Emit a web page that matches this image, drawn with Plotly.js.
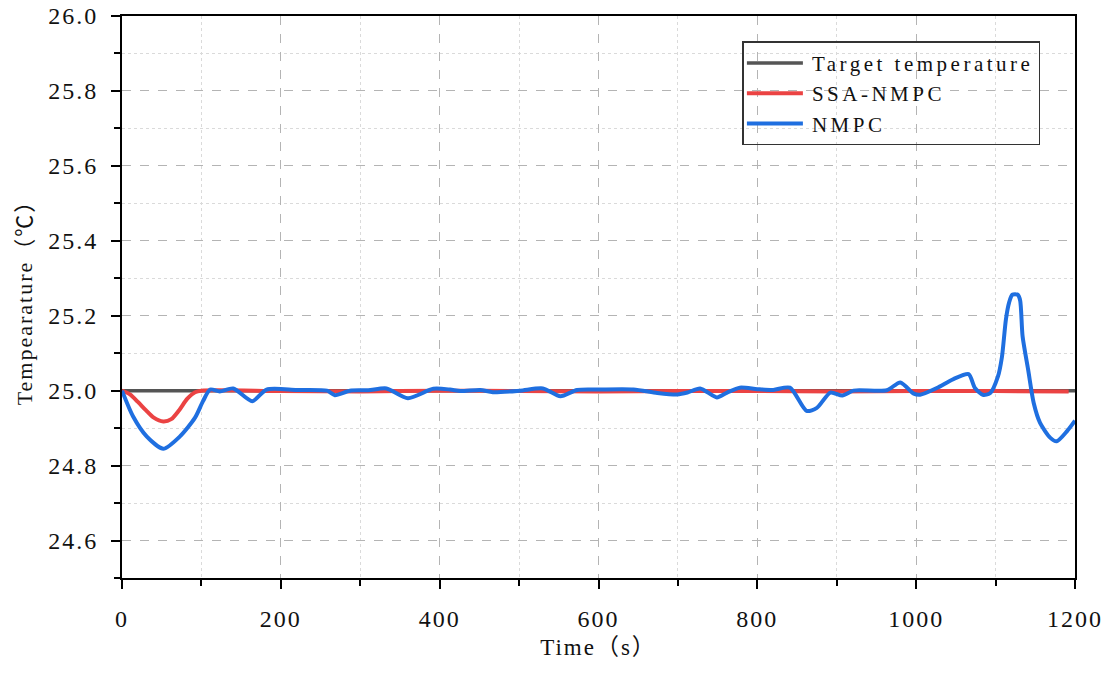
<!DOCTYPE html>
<html>
<head>
<meta charset="utf-8">
<script src="https://cdn.plot.ly/plotly-3.0.1.min.js"></script>
<style>
  body { margin: 0; background: #fff; }
  #chart { width: 1110px; height: 675px; }
  text { letter-spacing: 2px; }
  .legendtext { letter-spacing: 3.5px; }
</style>
</head>
<body>
<div id="chart"></div>
<script>
// values
var targetTime = [0, 1200];
var targetTemp = [25.0, 25.0];

var ssaTime = [0, 10, 20, 30, 40, 52, 62, 72, 82, 92, 100, 200, 300, 400, 500, 600, 700, 800, 900, 1000, 1100, 1192];
var ssaTemp = [25.0, 24.99, 24.97, 24.948, 24.928, 24.918, 24.924, 24.948, 24.978, 24.996, 25.0, 24.999, 24.998, 25.0, 24.999, 24.998, 24.999, 24.999, 24.998, 24.999, 24.999, 24.998];

var nmpcTime = [0, 14, 31, 52, 73, 92, 102, 111, 123, 140, 164, 182, 220, 258, 268, 287, 310, 333, 360, 392, 413,
  426, 451, 467, 501, 530, 552, 573, 602, 644, 674, 699, 712, 728, 749, 762, 778, 800, 820, 841, 862,
  875, 892, 907, 921, 963, 980, 997, 1005, 1026, 1047, 1066, 1074, 1084, 1093, 1103, 1108, 1113, 1117, 1121, 1128, 1131,
  1134, 1141, 1148, 1156, 1169, 1177, 1190, 1200];
var nmpcTemp = [25.0, 24.931, 24.878, 24.845, 24.878, 24.928, 24.972, 25.003, 24.998, 25.006, 24.972, 25.003, 25.002, 25.0, 24.988, 25.0, 25.001, 25.006, 24.98, 25.005, 25.003,
  24.999, 25.002, 24.996, 25.0, 25.006, 24.985, 25.002, 25.003, 25.003, 24.994, 24.99, 24.995, 25.006, 24.982, 24.995, 25.008, 25.004, 25.002, 25.008, 24.946,
  24.954, 24.995, 24.987, 25.0, 25.001, 25.022, 24.992, 24.989, 25.007, 25.031, 25.044, 25.007, 24.989, 24.993, 25.038, 25.09, 25.19, 25.235, 25.256, 25.256, 25.24,
  25.145, 25.056, 24.967, 24.914, 24.874, 24.865, 24.892, 24.92];

var seriesNames = ['Target temperature', 'SSA-NMPC', 'NMPC'];

var fontFam = '"Liberation Serif", "Noto Sans CJK SC", serif';
var tickFont = { family: fontFam, size: 24, color: '#111' };

var layout = {
  width: 1110,
  height: 675,
  paper_bgcolor: '#ffffff',
  plot_bgcolor: '#ffffff',
  showlegend: true,
  margin: { l: 122, r: 35, t: 16, b: 97 },
  font: { family: fontFam, size: 22, color: '#111' },
  xaxis: {
    range: [0, 1200],
    dtick: 200,
    tick0: 0,
    tickfont: tickFont,
    ticks: 'outside',
    ticklen: 9,
    tickwidth: 2,
    tickcolor: '#000',
    ticklabelstandoff: 9,
    showline: true,
    linecolor: '#000',
    linewidth: 2,
    mirror: true,
    showgrid: true,
    gridcolor: '#b4b4b4',
    griddash: 'dash',
    gridwidth: 1,
    zeroline: false,
    minor: { dtick: 100, ticks: 'outside', ticklen: 6, tickwidth: 2, tickcolor: '#000',
             showgrid: true, gridcolor: '#dadada', griddash: 'dot', gridwidth: 1 },
    title: { text: 'Time（s）', font: { family: fontFam, size: 23 }, standoff: 8 }
  },
  yaxis: {
    range: [24.5, 26.0],
    dtick: 0.2,
    tick0: 24.6,
    tickformat: '.1f',
    tickfont: tickFont,
    ticks: 'outside',
    ticklen: 9,
    tickwidth: 2,
    tickcolor: '#000',
    ticklabelstandoff: 8,
    showline: true,
    linecolor: '#000',
    linewidth: 2,
    mirror: true,
    showgrid: true,
    gridcolor: '#b4b4b4',
    griddash: 'dash',
    gridwidth: 1,
    zeroline: false,
    minor: { dtick: 0.1, ticks: 'outside', ticklen: 6, tickwidth: 2, tickcolor: '#000',
             showgrid: true, gridcolor: '#dadada', griddash: 'dot', gridwidth: 1 },
    title: { text: 'Tempearature（℃）', font: { family: fontFam, size: 22 }, standoff: 10 }
  },
  legend: {
    x: 0.651, y: 0.955,
    xanchor: 'left', yanchor: 'top',
    bgcolor: 'rgba(0,0,0,0)',
    bordercolor: '#333',
    borderwidth: 1.5,
    itemwidth: 58,
    font: { family: fontFam, size: 21, color: '#111' },
    tracegroupgap: 0
  }
};

Plotly.newPlot('chart', [{
    x: targetTime,
    y: targetTemp,
    name: seriesNames[0],
    type: 'scatter',
    mode: 'lines',
    line: { color: '#555555', width: 3.5 }
  }, {
    x: ssaTime,
    y: ssaTemp,
    name: seriesNames[1],
    type: 'scatter',
    mode: 'lines',
    line: { color: '#EB4343', width: 4, shape: 'spline', smoothing: 0.8 }
  }, {
    x: nmpcTime,
    y: nmpcTemp,
    name: seriesNames[2],
    type: 'scatter',
    mode: 'lines',
    line: { color: '#1F6FE0', width: 4, shape: 'spline', smoothing: 0.7 }
  }], layout, { staticPlot: true }).then(function (gd) {
    // longer legend sample lines, like the original figure
    gd.querySelectorAll('.legend .legendlines path').forEach(function (p) {
      p.setAttribute('d', 'M3,0h56');
    });
  });
</script>
</body>
</html>
